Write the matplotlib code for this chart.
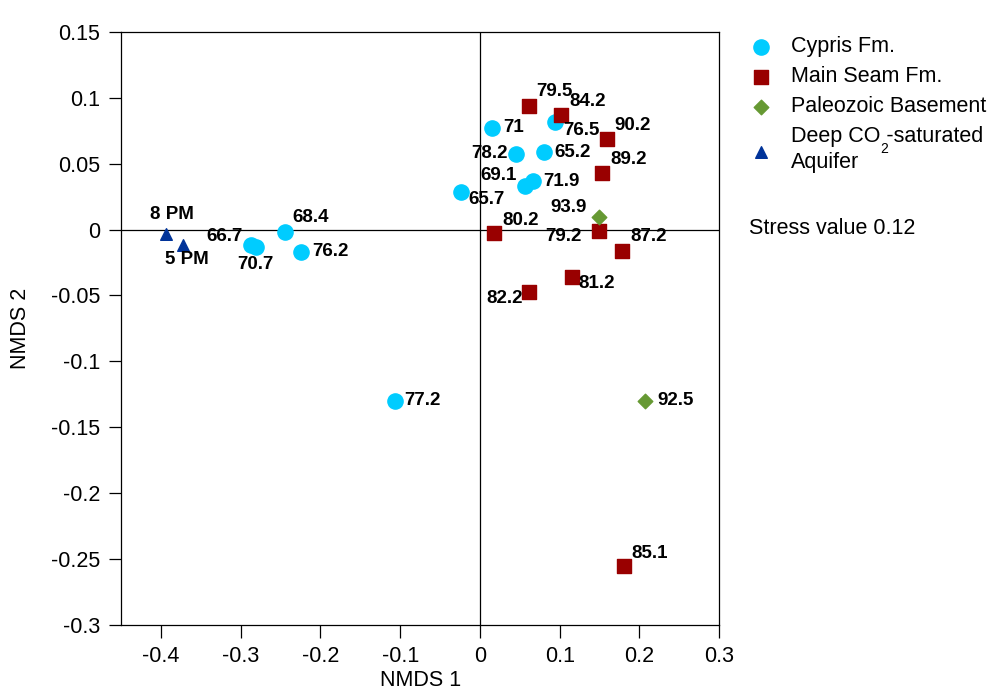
import matplotlib
matplotlib.use('Agg')
import matplotlib.pyplot as plt

plt.rcParams['font.family'] = ['Liberation Sans', 'DejaVu Sans']

# NMDS coordinates
cypris_lbl = ['71', '76.5', '78.2', '65.2', '69.1', '71.9', '65.7', '68.4', '66.7', '70.7', '76.2', '77.2']
cypris_x = [0.015, 0.094, 0.045, 0.080, 0.056, 0.067, -0.024, -0.245, -0.287, -0.281, -0.224, -0.107]
cypris_y = [0.077, 0.0815, 0.0575, 0.0587, 0.0327, 0.0367, 0.0286, -0.0018, -0.0116, -0.0134, -0.0167, -0.130]

seam_lbl = ['79.5', '84.2', '90.2', '89.2', '80.2', '79.2', '87.2', '81.2', '82.2', '85.1']
seam_x = [0.061, 0.102, 0.159, 0.153, 0.018, 0.149, 0.178, 0.115, 0.062, 0.181]
seam_y = [0.0937, 0.0871, 0.0686, 0.043, -0.0028, -0.001, -0.0162, -0.036, -0.0471, -0.2553]

paleo_lbl = ['93.9', '92.5']
paleo_x = [0.149, 0.207]
paleo_y = [0.0094, -0.130]

aquifer_lbl = ['8 PM', '5 PM']
aquifer_x = [-0.393, -0.372]
aquifer_y = [-0.0033, -0.0116]

# label placement: (dx px, dy px, ha)
cypris_off = [(11, 1, 'left'), (8, -8, 'left'), (-8, 0, 'right'), (11, 0, 'left'), (-8, 11, 'right'),
              (10, 0, 'left'), (8, -8, 'left'), (8, 14, 'left'), (-8, 8, 'right'), (0, -17, 'center'),
              (11, 0, 'left'), (10, 0, 'left')]
seam_off = [(8, 15, 'left'), (8, 13, 'left'), (8, 14, 'left'), (8, 13, 'left'), (8, 13, 'left'),
            (-17, -6, 'right'), (8, 14, 'left'), (7, -7, 'left'), (-7, -7, 'right'), (7, 13, 'left')]
paleo_off = [(-12, 10, 'right'), (12, 0, 'left')]
aquifer_off = [(5, 19, 'center'), (4, -15, 'center')]

c_cyan = '#00CCFF'
c_red = '#990000'
c_green = '#669933'
c_blue = '#003399'

fig = plt.figure(figsize=(9.92, 6.91), dpi=100)
ax = fig.add_axes([0.122, 0.0955, 0.603, 0.8585])

ax.axhline(0, color='black', lw=0.9, zorder=1)
ax.axvline(0, color='black', lw=0.9, zorder=1)

h1 = ax.scatter(cypris_x, cypris_y, s=120, marker='o', color=c_cyan, zorder=3, label='Cypris Fm.')
h2 = ax.scatter(seam_x, seam_y, s=95, marker='s', color=c_red, zorder=3, label='Main Seam Fm.')
h3 = ax.scatter(paleo_x, paleo_y, s=55, marker='D', color=c_green, zorder=3, label='Paleozoic Basement')
h4 = ax.scatter(aquifer_x, aquifer_y, s=70, marker='^', color=c_blue, zorder=3,
                label='Deep CO -saturated\nAquifer')


def put_labels(xs, ys, labels, offs):
    for x, y, t, (dx, dy, ha) in zip(xs, ys, labels, offs):
        ax.annotate(t, (x, y), xytext=(dx, dy), textcoords='offset pixels',
                    ha=ha, va='center', fontsize=13.5, fontweight='bold', zorder=4)


put_labels(cypris_x, cypris_y, cypris_lbl, cypris_off)
put_labels(seam_x, seam_y, seam_lbl, seam_off)
put_labels(paleo_x, paleo_y, paleo_lbl, paleo_off)
put_labels(aquifer_x, aquifer_y, aquifer_lbl, aquifer_off)

ax.set_xlim(-0.45, 0.3)
ax.set_ylim(-0.3, 0.15)
ax.set_xticks([-0.4, -0.3, -0.2, -0.1, 0, 0.1, 0.2, 0.3])
ax.set_xticklabels(['-0.4', '-0.3', '-0.2', '-0.1', '0', '0.1', '0.2', '0.3'])
ax.set_yticks([-0.3, -0.25, -0.2, -0.15, -0.1, -0.05, 0, 0.05, 0.1, 0.15])
ax.set_yticklabels(['-0.3', '-0.25', '-0.2', '-0.15', '-0.1', '-0.05', '0', '0.05', '0.1', '0.15'])
ax.tick_params(direction='out', length=9, width=0.9, labelsize=15.5, pad=6)
for sp in ax.spines.values():
    sp.set_linewidth(0.9)

ax.set_xlabel('NMDS 1', fontsize=15.5, labelpad=2)
ax.set_ylabel('NMDS 2', fontsize=15.5, labelpad=14)

leg = fig.legend(handles=[h1, h2, h3, h4], loc='upper left', bbox_to_anchor=(0.745, 0.96),
                 frameon=False, fontsize=15.5, handletextpad=0.8, labelspacing=0.42,
                 borderaxespad=0, handlelength=1.2, scatterpoints=1)
for t in leg.get_texts():
    t.set_linespacing(1.3)
# stray subscript of CO2, as placed in the original
fig.text(0.891, 0.785, '2', fontsize=10, ha='center', va='center')
fig.text(0.755, 0.669, 'Stress value 0.12', fontsize=15.5, ha='left', va='center')

fig.savefig('out.png', dpi=100)
